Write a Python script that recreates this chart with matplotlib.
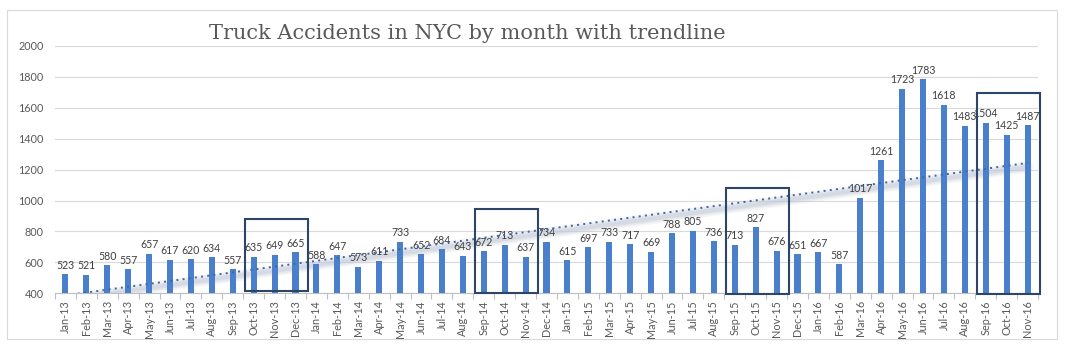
import numpy as np
import matplotlib
matplotlib.use("Agg")
import matplotlib.pyplot as plt
from matplotlib.patches import Rectangle
from matplotlib import transforms

# monthly truck accidents
months = ["Jan-13", "Feb-13", "Mar-13", "Apr-13", "May-13", "Jun-13", "Jul-13", "Aug-13",
          "Sep-13", "Oct-13", "Nov-13", "Dec-13",
          "Jan-14", "Feb-14", "Mar-14", "Apr-14", "May-14", "Jun-14", "Jul-14", "Aug-14",
          "Sep-14", "Oct-14", "Nov-14", "Dec-14",
          "Jan-15", "Feb-15", "Mar-15", "Apr-15", "May-15", "Jun-15", "Jul-15", "Aug-15",
          "Sep-15", "Oct-15", "Nov-15", "Dec-15",
          "Jan-16", "Feb-16", "Mar-16", "Apr-16", "May-16", "Jun-16", "Jul-16", "Aug-16",
          "Sep-16", "Oct-16", "Nov-16"]
accidents = [523, 521, 580, 557, 657, 617, 620, 634, 557, 635, 649, 665,
             588, 647, 573, 611, 733, 652, 684, 643, 672, 713, 637, 734,
             615, 697, 733, 717, 669, 788, 805, 736, 713, 827, 676, 651,
             667, 587, 1017, 1261, 1723, 1783, 1618, 1483, 1504, 1425, 1487]

# highlighted quarters: first month, last month, box top, box bottom
highlights = [("Oct-13", "Dec-13", 883, 415),
              ("Sep-14", "Nov-14", 948, 400),
              ("Sep-15", "Nov-15", 1084, 395),
              ("Sep-16", "Nov-16", 1693, 395)]

x = np.arange(len(months))
y = np.array(accidents)

fig = plt.figure(figsize=(10.71, 3.49), dpi=100)
ax = fig.add_axes([55 / 1071, 0.1596, 983 / 1071, 0.709])

# light frame around the whole chart
fig.patches.append(Rectangle((7 / 1071, 0.0287), 1050 / 1071, 0.942, transform=fig.transFigure,
                             fill=False, edgecolor="#d9d9d9", linewidth=0.8))

ax.bar(x, y, width=0.29, color="#4a7fcb", zorder=3)

for xi, v in zip(x, y):
    ax.annotate(str(v), (xi, v), xytext=(0, 2.5), textcoords="offset points",
                ha="center", va="bottom", fontsize=7.6, color="#404040", family="Lato")

# linear trendline with a soft shadow under it
slope, intercept = np.polyfit(x, y, 1)
trend = slope * x + intercept
shadow = transforms.offset_copy(ax.transData, fig=fig, x=0, y=-4, units="dots")
for lw, a in [(8, 0.18), (5.5, 0.3), (3, 0.45)]:
    ax.plot(x, trend, color="#c3cad8", lw=lw, alpha=a, transform=shadow,
            solid_capstyle="round", zorder=2)
ax.plot(x, trend, color="#3f65a3", lw=1.4, linestyle=(0, (1, 2.2)), zorder=4)

for first, last, top, bottom in highlights:
    i0, i1 = months.index(first), months.index(last)
    ax.add_patch(Rectangle((i0 - 0.4, bottom), (i1 - i0) + 1.0, top - bottom, fill=False,
                           edgecolor="#2d4566", linewidth=1.5, clip_on=False, zorder=5))

ax.set_xlim(-0.5, len(months) - 0.5)
ax.set_ylim(400, 2000)
ax.set_yticks(range(400, 2001, 200))
ax.set_xticks(x)
ax.set_xticklabels(months, rotation=90, fontsize=7.8, color="#595959", family="Lato")
ax.set_xticks(np.arange(-0.5, len(months), 1), minor=True)
ax.tick_params(axis="x", which="major", length=0, pad=5)
ax.tick_params(axis="x", which="minor", length=4, color="#bfbfbf", width=0.8)
ax.tick_params(axis="y", length=0, pad=8, labelsize=7.8, labelcolor="#595959")
for lab in ax.get_yticklabels():
    lab.set_family("Lato")

ax.grid(axis="y", color="#d9d9d9", linewidth=0.8, zorder=0)
ax.set_axisbelow(True)
for side in ["top", "right", "left"]:
    ax.spines[side].set_visible(False)
ax.spines["bottom"].set_color("#bfbfbf")
ax.spines["bottom"].set_linewidth(0.8)

fig.text(467 / 1071, 0.905, "Truck Accidents in NYC by month with trendline", ha="center",
         va="center", fontsize=15, color="#595959", family="DejaVu Serif")

fig.savefig("out.png", dpi=100)
